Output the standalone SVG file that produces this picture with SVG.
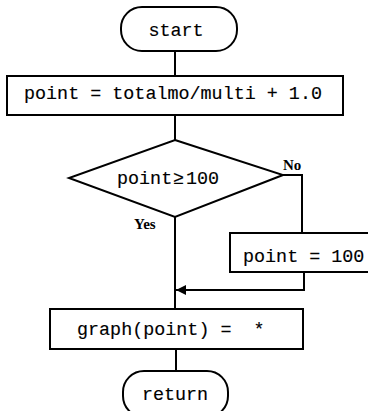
<svg xmlns="http://www.w3.org/2000/svg" width="368" height="411" viewBox="0 0 368 411">
  <style>
    .shape { fill: #fff; stroke: #000; stroke-width: 2; }
    .line { fill: none; stroke: #000; stroke-width: 2; }
    .code { font-family: "Liberation Mono", "Courier New", monospace; font-size: 18.4px; fill: #000; stroke: #000; stroke-width: 0.15; }
    .tag { font-family: "Liberation Serif", "Times New Roman", serif; font-size: 15px; font-weight: bold; fill: #000; }
  </style>
  <defs>
    <marker id="arrow" viewBox="0 0 10 10" refX="10" refY="5" markerWidth="5" markerHeight="5" orient="auto" markerUnits="strokeWidth">
      <path d="M0,0 L10,5 L0,10 z" fill="#000"/>
    </marker>
  </defs>
  <rect width="368" height="411" fill="#fff"/>

  <g id="connectors">
    <path class="line" d="M175,51 V76"/>
    <path class="line" d="M175,115 V140"/>
    <path class="line" d="M175,217 V309"/>
    <path class="line" d="M283,175 H302 V233"/>
    <path class="line" d="M304,272 V290 H176" marker-end="url(#arrow)"/>
    <path class="line" d="M176,349 V371"/>
  </g>

  <g id="start">
    <rect class="shape" x="121" y="7" width="116" height="44" rx="21"/>
    <text class="code" x="176" y="36" text-anchor="middle">start</text>
  </g>

  <g id="compute">
    <rect class="shape" x="7" y="76" width="336" height="39"/>
    <text class="code" x="24" y="99">point = totalmo/multi + 1.0</text>
  </g>

  <g id="decision">
    <polygon class="shape" points="175,140 283,175 175,217 69,178"/>
    <text class="code" y="184"><tspan x="117">point</tspan><tspan x="173">≥</tspan><tspan x="186">100</tspan></text>
    <text class="tag" x="283" y="170">No</text>
    <text class="tag" x="134" y="229">Yes</text>
  </g>

  <g id="clamp">
    <rect class="shape" x="230" y="233" width="142" height="39"/>
    <text class="code" x="243" y="262">point = 100</text>
  </g>

  <g id="plot">
    <rect class="shape" x="50" y="309" width="253" height="40"/>
    <text class="code" x="77" y="335" xml:space="preserve">graph(point) =  *</text>
  </g>

  <g id="return">
    <rect class="shape" x="123" y="371" width="105" height="46" rx="21"/>
    <text class="code" x="175" y="400" text-anchor="middle">return</text>
  </g>
</svg>
